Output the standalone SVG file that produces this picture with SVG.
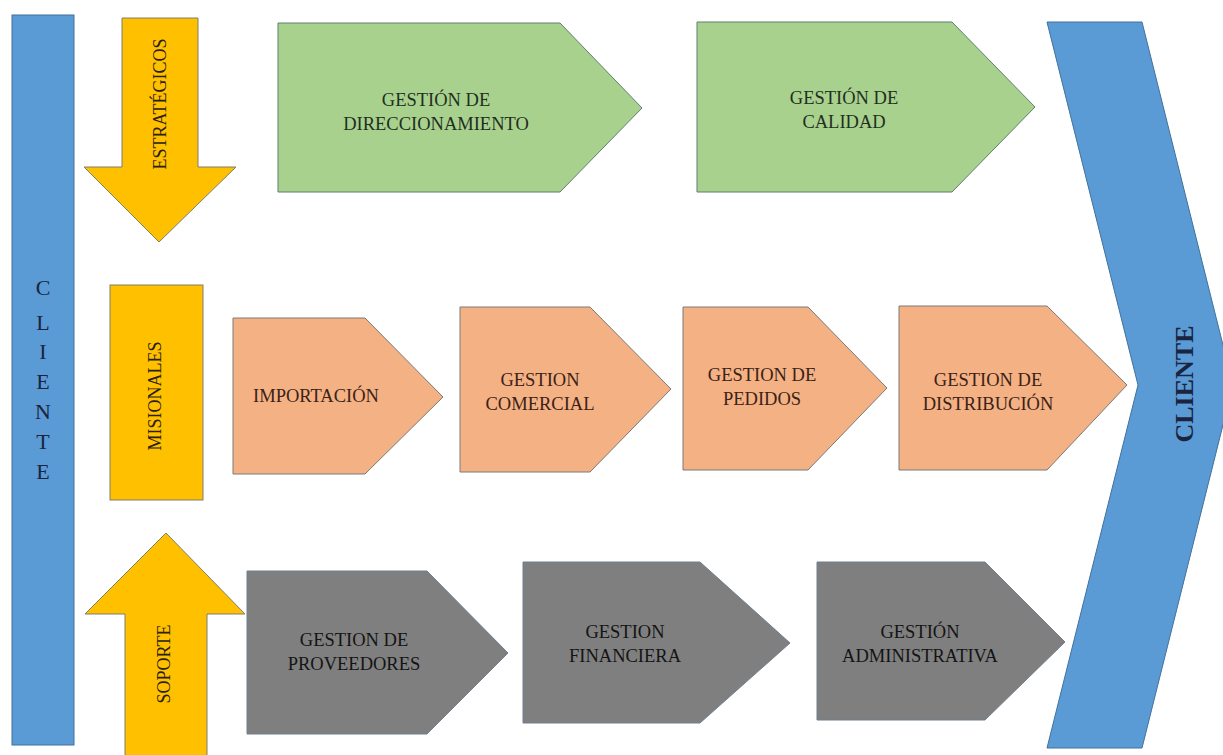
<svg xmlns="http://www.w3.org/2000/svg" width="1223" height="755" viewBox="0 0 1223 755">
<style>
.blue{fill:#5B9BD5;stroke:#41719C;stroke-width:1}
.gold{fill:#FFC000;stroke:#7f7f6a;stroke-width:1}
.green{fill:#A9D18E;stroke:#5f7f6f;stroke-width:1}
.orange{fill:#F4B183;stroke:#7a7a7a;stroke-width:1}
.gray{fill:#7F7F7F;stroke:#6f7f8f;stroke-width:1}
text{font-family:"Liberation Serif","Times New Roman",serif;text-anchor:middle}
.lbl{font-size:18.5px}
.tg{fill:#1f2f1f}
.to{fill:#3a2218}
.tk{fill:#141414}
.tv{font-size:18px;fill:#2a2010}
.cl{font-size:22px;fill:#1a2440}
</style>
<rect width="1223" height="755" fill="#ffffff"/>

<g id="cliente-left">
<rect class="blue" x="12" y="15" width="62" height="730"/>
<text class="cl" x="43" y="295">C</text>
<text class="cl" x="43" y="330">L</text>
<text class="cl" x="43" y="359">I</text>
<text class="cl" x="43" y="389">E</text>
<text class="cl" x="43" y="419">N</text>
<text class="cl" x="43" y="449">T</text>
<text class="cl" x="43" y="479">E</text>
</g>

<g id="cliente-right">
<polygon class="blue" points="1047,22 1142,22 1233,385 1142,748 1047,748 1138,385"/>
<text x="1184" y="384" transform="rotate(-90 1184 384)" font-size="26" font-weight="bold" fill="#1a2440" dy="9">CLIENTE</text>
</g>

<g id="estrategicos">
<polygon class="gold" points="122,18 198,18 198,167 236,167 159,242 84,167 122,167"/>
<text class="tv" x="160" y="104" transform="rotate(-90 160 104)" dy="6">ESTRATÉGICOS</text>
</g>

<g id="misionales">
<rect class="gold" x="110" y="285" width="93" height="215"/>
<text class="tv" x="155" y="396" transform="rotate(-90 155 396)" dy="6">MISIONALES</text>
</g>

<g id="soporte">
<polygon class="gold" points="166,533 245,614 207,614 207,760 125,760 125,614 85,614"/>
<text class="tv" x="164" y="664" transform="rotate(-90 164 664)" dy="6">SOPORTE</text>
</g>

<g id="gestion-direccionamiento">
<polygon class="green" points="278,23 560,23 642,108 560,192 278,192"/>
<text class="lbl tg" x="436" y="106">GESTIÓN DE</text>
<text class="lbl tg" x="436" y="130">DIRECCIONAMIENTO</text>
</g>

<g id="gestion-calidad">
<polygon class="green" points="697,22 952,22 1035,107 952,192 697,192"/>
<text class="lbl tg" x="844" y="104">GESTIÓN DE</text>
<text class="lbl tg" x="844" y="128">CALIDAD</text>
</g>

<g id="importacion">
<polygon class="orange" points="233,318 365,318 443,397 365,474 233,474"/>
<text class="lbl to" x="316" y="402">IMPORTACIÓN</text>
</g>

<g id="gestion-comercial">
<polygon class="orange" points="460,307 590,307 671,389 590,472 460,472"/>
<text class="lbl to" x="540" y="386">GESTION</text>
<text class="lbl to" x="540" y="410">COMERCIAL</text>
</g>

<g id="gestion-pedidos">
<polygon class="orange" points="683,307 808,307 887,388 808,470 683,470"/>
<text class="lbl to" x="762" y="381">GESTION DE</text>
<text class="lbl to" x="762" y="405">PEDIDOS</text>
</g>

<g id="gestion-distribucion">
<polygon class="orange" points="899,306 1047,306 1127,385 1047,470 899,470"/>
<text class="lbl to" x="988" y="386">GESTION DE</text>
<text class="lbl to" x="988" y="410">DISTRIBUCIÓN</text>
</g>

<g id="gestion-proveedores">
<polygon class="gray" points="247,571 427,571 508,653 427,734 247,734"/>
<text class="lbl tk" x="354" y="646">GESTION DE</text>
<text class="lbl tk" x="354" y="670">PROVEEDORES</text>
</g>

<g id="gestion-financiera">
<polygon class="gray" points="523,562 700,562 790,643 700,723 523,723"/>
<text class="lbl tk" x="625" y="638">GESTION</text>
<text class="lbl tk" x="625" y="662">FINANCIERA</text>
</g>

<g id="gestion-administrativa">
<polygon class="gray" points="817,562 985,562 1065,642 985,720 817,720"/>
<text class="lbl tk" x="920" y="638">GESTIÓN</text>
<text class="lbl tk" x="920" y="662">ADMINISTRATIVA</text>
</g>

<g id="connectors"></g>
</svg>
